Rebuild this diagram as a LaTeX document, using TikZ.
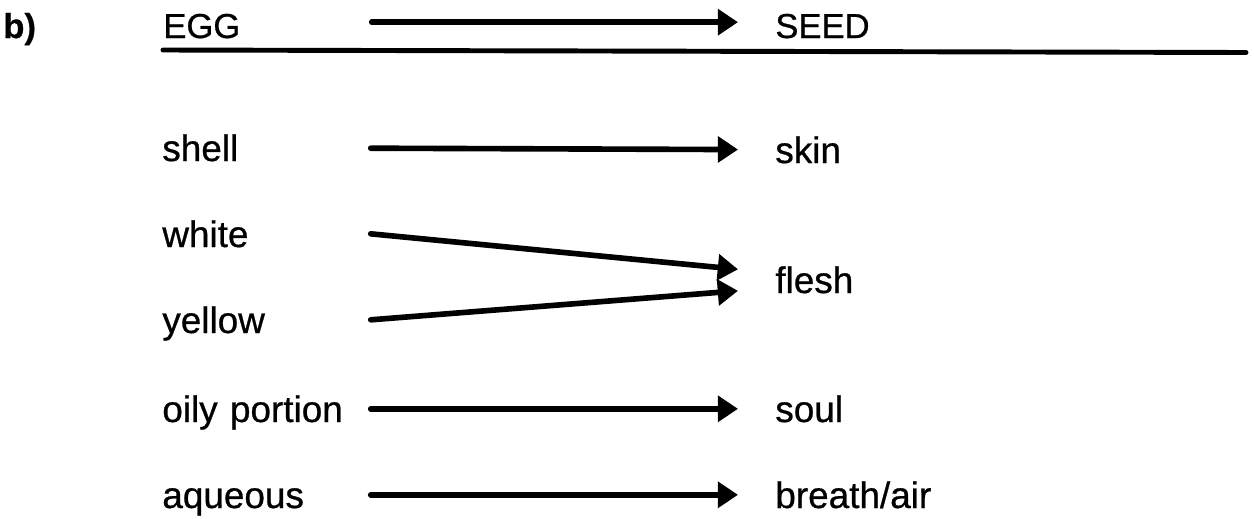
\documentclass[tikz,border=0pt]{standalone}
\usepackage{fontspec}
\setmainfont{Liberation Sans}[FakeBold=0.7]
\usetikzlibrary{arrows.meta}

\begin{document}
\begin{tikzpicture}[
  map/.style={-{Triangle[length=11.5pt, width=14.5pt]}, line width=3.2pt, line cap=round},
  rule/.style={line width=2.8pt, line cap=round},
  src/.style={anchor=base west, inner sep=0pt, text width=4.16cm, align=left,
    text height=15pt, text depth=0pt, font=\fontsize{21}{25}\selectfont},
  dst/.style={anchor=base west, inner ysep=0pt, inner xsep=0.74cm,
    text height=15pt, text depth=0pt, font=\fontsize{21}{25}\selectfont},
  head/.style={font=\fontsize{19.7}{23}\selectfont, text height=18pt},
]
\useasboundingbox (0,0) rectangle (25.08,-10.36);

% ===== header row =====
\node[anchor=base west, inner sep=0pt, font=\fontsize{19.7}{23}\selectfont\bfseries] (part) at (0.06,-0.76) {b)};
\node[src, head] (egg) at (3.26,-0.76) {EGG};
\node[dst, head] (seed) at (14.76,-0.76) {SEED};
\draw[map] (egg) -- (seed);
\draw[rule] (3.26,-1.0) -- (24.92,-1.05);

% ===== egg parts =====
\node[src] (shell)   at (3.24,-3.22)  {shell};
\node[src] (white)   at (3.24,-4.94)  {white};
\node[src] (yellow)  at (3.24,-6.66)  {yellow};
\node[src] (oily)    at (3.24,-8.44)  {oily portion};
\node[src] (aqueous) at (3.24,-10.16) {aqueous};

% ===== seed parts =====
\node[dst] (skin)   at (14.76,-3.26)  {skin};
\node[dst] (flesh)  at (14.76,-5.86)  {flesh};
\node[dst] (soul)   at (14.76,-8.44)  {soul};
\node[dst] (breath) at (14.76,-10.16) {breath/air};

% ===== correspondences =====
\draw[map] (shell) -- (skin);
\draw[map] (white.east) -- ([yshift=0.21cm]flesh.west);
\draw[map] (yellow.east) -- ([yshift=-0.22cm]flesh.west);
\draw[map] (oily) -- (soul);
\draw[map] (aqueous) -- (breath);

\end{tikzpicture}
\end{document}
